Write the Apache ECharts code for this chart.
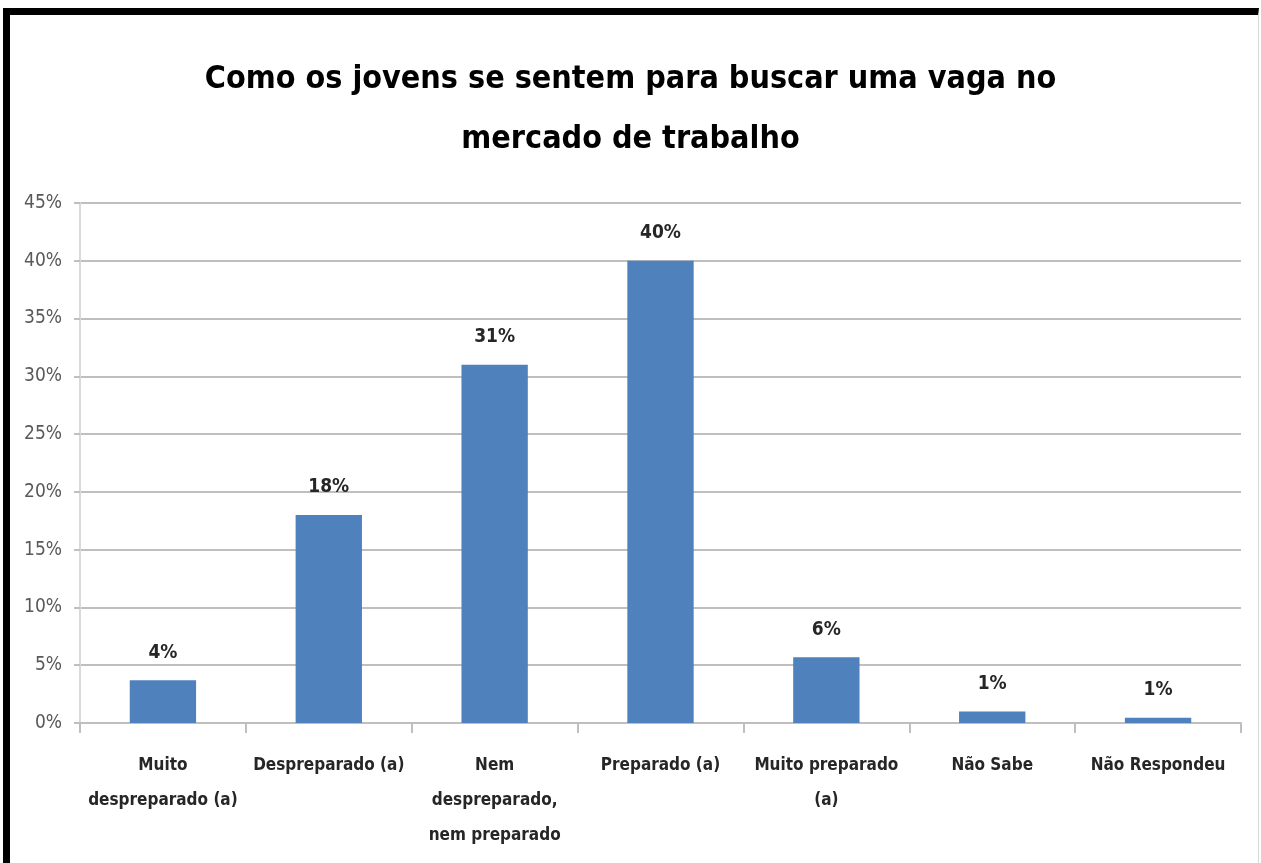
<!DOCTYPE html>
<html>
<head>
<meta charset="utf-8">
<title></title>
<script src="https://cdn.jsdelivr.net/npm/echarts@6/dist/echarts.min.js"></script>
<style>
  html, body { margin: 0; padding: 0; background: #fff; }
  #chart { position: absolute; left: 0; top: 0; width: 1261px; height: 863px; }
  #frame {
    position: absolute; left: 3px; top: 8px; right: 2px; bottom: -10px;
    border-top: 7px solid #000; border-left: 7px solid #000; border-right: 1px solid #d9d9d9;
    pointer-events: none;
  }
</style>
</head>
<body>
<div id="chart"></div>
<div id="frame"></div>
<script>
// dados
var categorias = ['Muito\ndespreparado (a)', 'Despreparado (a)', 'Nem\ndespreparado,\nnem preparado',
  'Preparado (a)', 'Muito preparado\n(a)', 'Não Sabe', 'Não Respondeu'];
var valores = [3.7, 18, 31, 40, 5.7, 1.0, 0.45];
var rotulos = ['4%', '18%', '31%', '40%', '6%', '1%', '1%'];

var fonte = '"DejaVu Sans Condensed", "Liberation Sans", sans-serif';

var myChart = echarts.init(document.getElementById('chart'));
var option = {
  animation: false,
  title: {
    text: 'Como os jovens se sentem para buscar uma vaga no\nmercado de trabalho',
    left: 'center',
    top: 45,
    textStyle: { fontFamily: fonte, fontSize: 32, fontWeight: 'bold', color: '#000', lineHeight: 60 }
  },
  grid: { left: 80, right: 20, top: 203, bottom: 140 },
  xAxis: {
    type: 'category',
    data: categorias,
    axisLine: { lineStyle: { color: '#bfbfbf', width: 2 } },
    axisTick: { show: true, length: 10, lineStyle: { color: '#bfbfbf', width: 2 } },
    axisLabel: {
      interval: 0, margin: 25,
      fontFamily: fonte, fontSize: 17, fontWeight: 'bold', color: '#262626', lineHeight: 35
    }
  },
  yAxis: {
    type: 'value',
    min: 0, max: 45, interval: 5,
    axisLine: { show: true, lineStyle: { color: '#d9d9d9', width: 2 } },
    axisTick: { show: true, length: 6, lineStyle: { color: '#bfbfbf', width: 2 } },
    axisLabel: { formatter: '{value}%', margin: 18, fontFamily: fonte, fontSize: 19, color: '#595959' },
    splitLine: { lineStyle: { color: '#bfbfbf', width: 2 } }
  },
  series: [{
    type: 'bar',
    data: valores,
    barWidth: '40%',
    itemStyle: { color: '#4f81bd' },
    label: {
      show: true, position: 'top', distance: 18,
      formatter: function (p) { return rotulos[p.dataIndex]; },
      fontFamily: fonte, fontSize: 19, fontWeight: 'bold', color: '#262626'
    }
  }]
};
myChart.setOption(option);
</script>
</body>
</html>
